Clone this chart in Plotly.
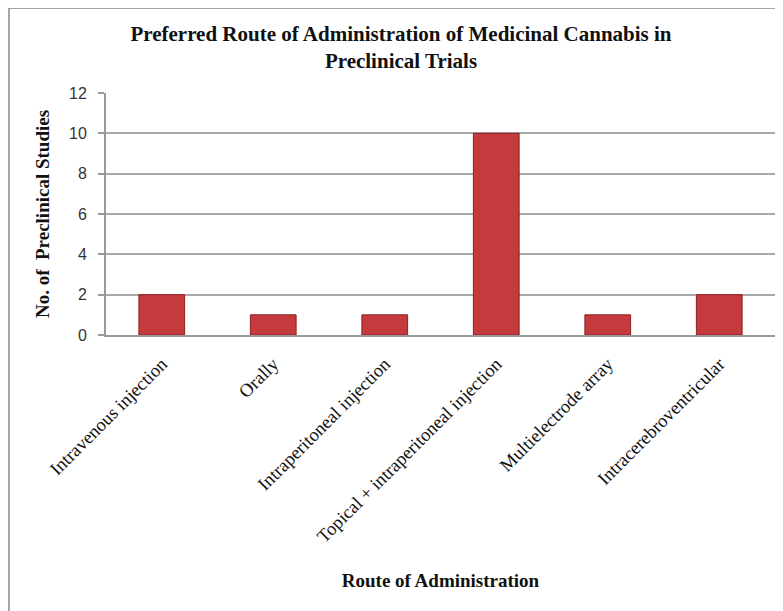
import plotly.graph_objects as go

categories = ["Intravenous injection", "Orally", "Intraperitoneal injection",
              "Topical + intraperitoneal injection", "Multielectrode array",
              "Intracerebroventricular"]
studies = [2, 1, 1, 10, 1, 2]
y_ticks = [0, 2, 4, 6, 8, 10, 12]

# page body has an 8px margin; figure sized to fit the window
W, H = 775, 603
L, R, T, B = 98, 8, 85, 276
pw, ph = W - L - R, H - T - B

def px_x(x):
    return (x - L) / pw

def px_y(y):
    return (H - B - y) / ph

fig = go.Figure()
fig.add_trace(go.Bar(
    x=categories, y=studies,
    marker=dict(color="#c53a3c", line=dict(color="#8e1f22", width=1)),
    width=0.41,
))

serif = "Liberation Serif, Times New Roman, serif"
fig.update_layout(
    width=W, height=H,
    margin=dict(l=L, r=R, t=T, b=B),
    paper_bgcolor="white", plot_bgcolor="white",
    showlegend=False,
    title=dict(
        text="<b>Preferred Route of Administration of Medicinal Cannabis in<br>Preclinical Trials</b>",
        x=px_x(393), xanchor="center", xref="paper",
        y=1 - 33 / H, yanchor="top",
        font=dict(family=serif, size=21, color="#111"),
    ),
    xaxis=dict(
        tickangle=-45,
        tickfont=dict(family=serif, size=18.5, color="#111"),
        showline=True, linecolor="#999", linewidth=2,
        ticks="", showgrid=False,
        ticklabelstandoff=9,
        title=dict(text="<b>Route of Administration</b>",
                   font=dict(family=serif, size=19, color="#111"), standoff=28),
        automargin=False,
    ),
    yaxis=dict(
        range=[0, 12], tickvals=y_ticks,
        tickfont=dict(family="Liberation Sans, Arial, sans-serif", size=16, color="#333"),
        showline=True, linecolor="#999", linewidth=2,
        ticks="outside", ticklen=6, tickcolor="#999", tickwidth=1.5,
        ticklabelstandoff=8,
        showgrid=True, gridcolor="#aaa", gridwidth=1.5,
        zeroline=False,
        title=dict(text="<b>No. of  Preclinical Studies</b>",
                   font=dict(family=serif, size=19, color="#111"), standoff=14),
        automargin=False,
    ),
)

fig.add_shape(type="rect", xref="paper", yref="paper",
              x0=px_x(1), x1=px_x(800), y0=px_y(640), y1=px_y(0),
              line=dict(color="#888", width=1.5), fillcolor="rgba(0,0,0,0)", layer="below")

fig.write_html("out.html")
